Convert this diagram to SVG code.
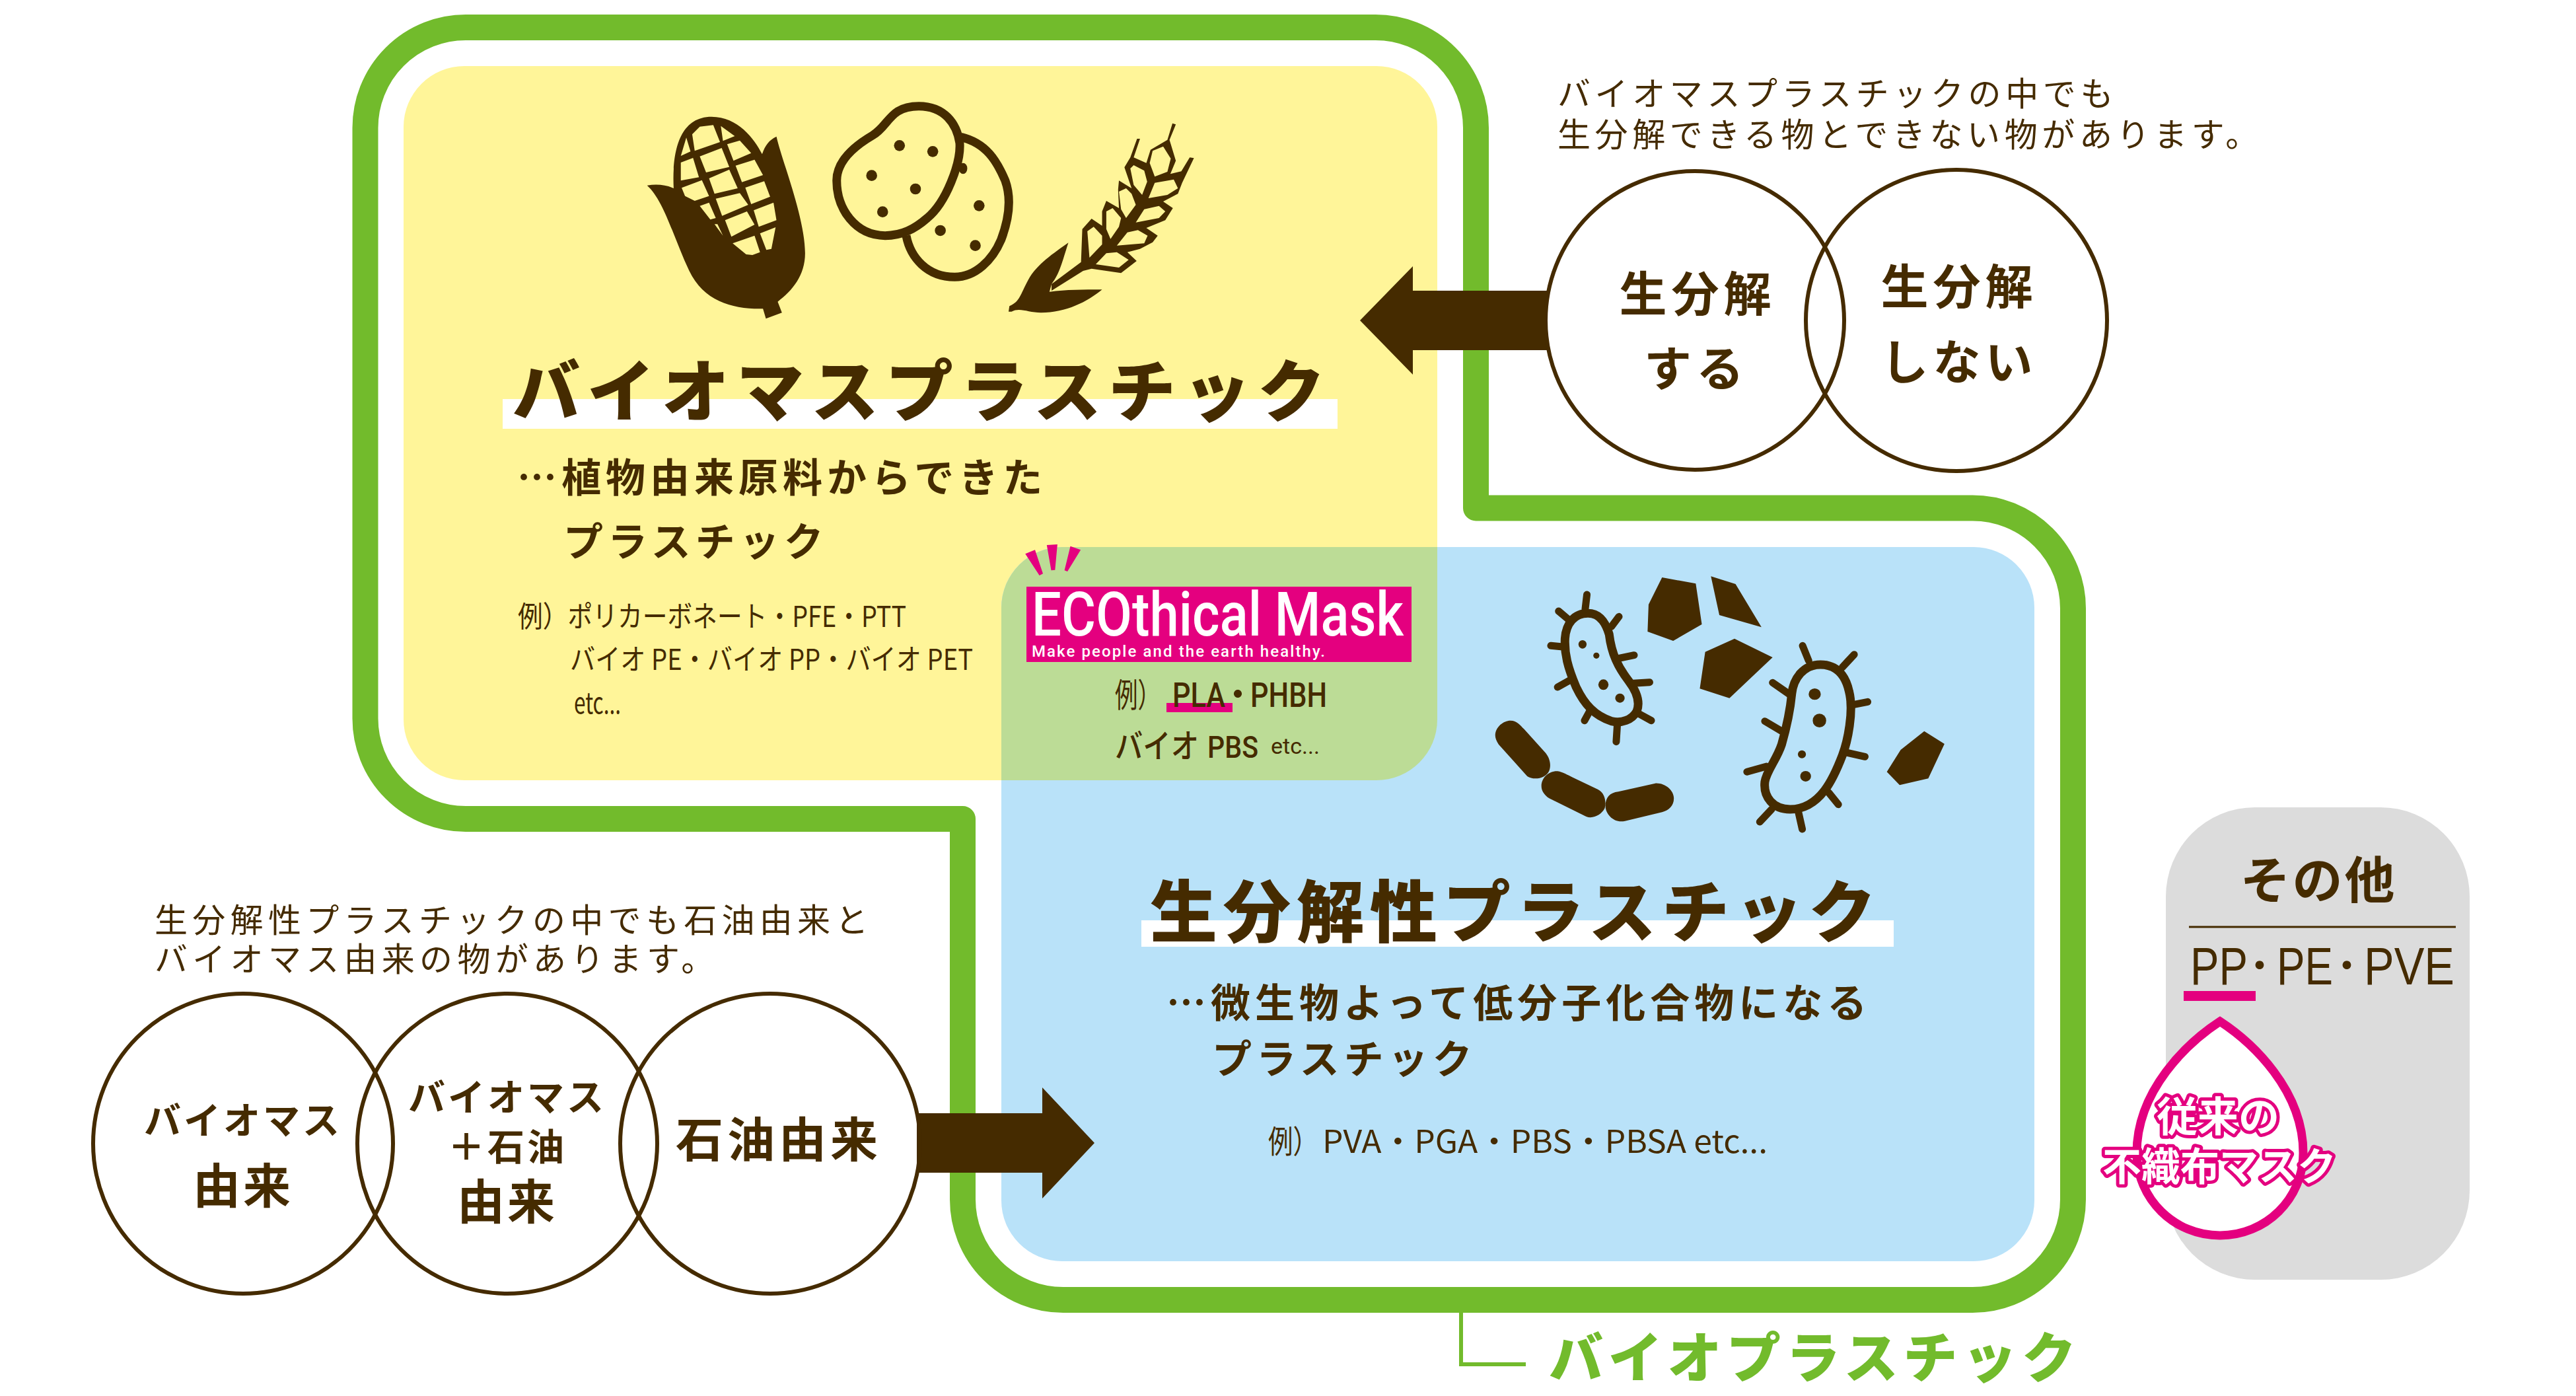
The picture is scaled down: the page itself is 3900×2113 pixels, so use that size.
<svg xmlns="http://www.w3.org/2000/svg" width="3900" height="2113" viewBox="0 0 3900 2113">
<style>
text{font-family:"Noto Sans CJK JP","Noto Sans",sans-serif;fill:#452b00}
.b{font-weight:700}
.m{text-anchor:middle}
.d{fill:#452b00}
.y{fill:#fff599}
.s{fill:none;stroke:#452b00;stroke-width:13;vector-effect:non-scaling-stroke}
.sp{fill:none;stroke:#452b00;stroke-width:11;stroke-linecap:round;vector-effect:non-scaling-stroke}
.c{fill:none;stroke:#452b00;stroke-width:6}
.h{font-weight:900;font-size:102px;letter-spacing:11px}
.t{font-weight:700;font-size:60px;letter-spacing:7px}
.n{font-size:50px;letter-spacing:6.6px}
.e{font-size:44px}
.r{font-family:Roboto,sans-serif;font-weight:500}
.w{fill:#fff;stroke:#e4007f;stroke-width:10;paint-order:stroke;font-weight:700;stroke-linejoin:round}
</style>
<rect width="3900" height="2113" fill="#fff"/>
<g id="bioplastic-frame">
<path d="M705,41.500H2082.500A152,152 0 0 1 2234.500,193.500V769H2986.500A152,152 0 0 1 3138.500,921V1815.500A152,152 0 0 1 2986.500,1967.500H1609.500A152,152 0 0 1 1457.500,1815.500V1239.500H705A152,152 0 0 1 553,1087.500V193.500A152,152 0 0 1 705,41.500Z" fill="#fff" stroke="#72bb2c" stroke-width="39" stroke-linejoin="round"/>
</g>
<g id="biomass-panel">
<rect x="611" y="100" width="1565" height="1081" rx="92" fill="#fff599"/>
<rect x="761" y="604" width="1264" height="45" fill="#fff"/>
</g>
<g id="biodegradable-panel">
<rect x="1516" y="828" width="1564" height="1081" rx="92" fill="#b9e2f9"/>
<rect x="1728" y="1393" width="1139" height="40" fill="#fff"/>
</g>
<path id="overlap" d="M1608,828H2176V1089A92,92 0 0 1 2084,1181H1516V920A92,92 0 0 1 1608,828Z" fill="#bcdc96"/>
<g id="crops" transform="translate(900,130) scale(0.6378,0.3333)">
<path class="d" d="M125,452C150,445 170,450 188,465C185,350 190,140 278,140C340,140 380,240 398,310C405,270 415,245 432,230C445,340 500,600 500,760C500,860 470,930 435,980L445,1030L407,1057L400,1012C330,1015 260,980 225,840C190,700 165,520 125,452Z"/>
<path class="y" d="M232,220L250,185L282,178L298,255L238,295ZM300,182L333,228L305,250ZM218,235L228,298L205,318ZM205,348L234,327L248,415L205,430ZM250,320L302,282L320,368L265,393ZM315,265L345,248L372,305L330,340ZM272,420L320,380L340,465L285,490ZM335,362L380,335L400,405L350,437ZM207,463L255,428L272,500L238,522L215,500ZM288,512L345,487L365,540L303,590ZM358,462L403,433L417,503L372,537ZM250,545L272,530L288,600L275,607ZM310,610L362,570L380,630L325,685ZM378,565L425,530L432,610L390,640ZM285,628L292,628L305,680ZM328,715L380,680L393,755L375,768L360,765ZM393,670L430,642L420,740L408,745Z"/>
<path class="s" d="M870,232C930,260 955,340 975,430C990,510 985,600 965,700C945,790 905,868 855,868C790,868 750,780 740,680"/>
<path class="s" d="M770,92C830,92 860,170 867,260C870,350 835,530 790,600C760,650 730,680 690,680C620,680 575,560 575,430C575,340 620,270 660,225C700,180 700,92 770,92Z"/>
<g class="d"><ellipse cx="724" cy="271" rx="13" ry="25"/><ellipse cx="803" cy="298" rx="13" ry="25"/><ellipse cx="658" cy="407" rx="13" ry="25"/><ellipse cx="762" cy="468" rx="13" ry="25"/><ellipse cx="684" cy="572" rx="13" ry="25"/><ellipse cx="913" cy="544" rx="13" ry="25"/><ellipse cx="821" cy="657" rx="13" ry="25"/><ellipse cx="904" cy="725" rx="13" ry="25"/><ellipse cx="875" cy="375" rx="10" ry="25"/></g>
<path class="d" d="M1085,900L1155,800L1158,650L1180,603L1205,635L1205,570L1215,522L1245,555L1243,470L1245,430L1275,465L1258,370L1272,325L1288,240L1295,240L1280,325L1310,350L1320,290L1360,245L1372,170L1380,175L1365,245L1380,340L1367,400L1393,388L1413,325L1423,328L1395,440L1385,490L1350,525L1373,555L1355,610L1310,645L1337,680L1325,710L1295,740L1265,755L1287,795L1250,850L1180,830L1160,840L1085,930ZM983,1025L985,1000C1010,980 1010,950 1030,880C1050,810 1090,760 1125,712C1110,800 1105,850 1085,900L1080,935C1120,925 1160,925 1205,925C1170,980 1120,1030 1060,1030C1030,1030 1010,1005 990,1025Z"/>
<path class="y" d="M1318,350L1325,295L1350,275L1368,330L1360,390L1330,412ZM1272,375L1280,360L1305,385L1312,435L1300,495L1280,450ZM1315,510L1330,440L1375,425L1385,465L1360,495ZM1245,480L1262,465L1275,490L1285,540L1262,600L1250,560ZM1285,620L1305,560L1340,545L1355,570L1340,600ZM1215,570L1230,555L1250,600L1245,640L1225,695L1215,650ZM1240,725L1265,665L1290,655L1313,680L1305,715ZM1170,660L1185,640L1205,680L1205,720L1175,780ZM1190,810L1215,760L1240,755L1268,790L1245,825Z"/>
</g>
<g id="microbes" transform="translate(2200,850) scale(0.5102,0.3333)">
<path class="d" d="M620,72L720,100L738,285L653,360L577,318L580,195ZM765,67L838,102L915,298L790,243ZM835,350L948,435L820,620L732,577L748,410ZM1398,770L1458,828L1410,985L1325,1015L1287,955L1328,855Z"/>
<path class="d" d="M125,790C125,750 150,722 170,722C190,722 200,745 210,760L275,870C290,900 290,930 285,950C275,985 240,995 220,975L135,830C128,815 125,800 125,790ZM262,1020C262,980 285,950 310,952C325,955 340,970 355,980L430,1035C450,1050 455,1090 450,1120C440,1150 415,1170 395,1158L285,1075C270,1060 262,1040 262,1020ZM452,1110C452,1070 465,1050 490,1045L600,1007C630,1005 655,1040 655,1075C655,1110 640,1130 620,1138L510,1178C480,1190 452,1150 452,1110Z"/>
<path class="s" d="M400,235C440,235 455,290 463,330C470,420 490,480 520,540C545,590 555,640 545,680C530,720 500,735 470,725C420,700 390,650 365,570C340,480 330,420 332,350C335,280 360,235 400,235Z"/>
<path class="sp" d="M397,150L392,215M313,225L340,260M492,250L470,295M290,382L330,388M537,425L490,440M310,570L345,540M583,548L535,553M588,722L550,690M390,722L405,680M484,818L487,745"/>
<path class="s" d="M1090,468C1140,468 1165,520 1175,590C1190,680 1170,820 1155,880C1130,980 1090,1125 1000,1125C950,1125 920,1070 925,1000C930,950 960,900 975,830C990,750 1000,680 1005,600C1010,530 1040,468 1090,468Z"/>
<path class="sp" d="M1037,382L1055,450M1190,422L1155,480M948,550L1000,605M1230,637L1180,652M925,725L980,775M1222,886L1170,868M872,955L930,930M1143,1103L1115,1050M910,1182L945,1125M1036,1215L1025,1140"/>
<g class="d"><ellipse cx="384" cy="376" rx="12" ry="19"/><ellipse cx="425" cy="427" rx="9" ry="14"/><ellipse cx="446" cy="559" rx="15" ry="24"/><ellipse cx="495" cy="620" rx="14" ry="21"/><ellipse cx="1073" cy="602" rx="18" ry="26"/><ellipse cx="1087" cy="722" rx="20" ry="31"/><ellipse cx="1035" cy="875" rx="12" ry="18"/><ellipse cx="1046" cy="975" rx="16" ry="24"/></g>
</g>
<g id="connectors">
<path id="arrow-left" class="d" d="M2343,440H2139V403L2059,485L2139,567V530H2343Z"/>
<path id="arrow-right" class="d" d="M1388,1685H1578V1646L1657,1730L1578,1814V1775H1388Z"/>
<path id="bioplastic-leader" d="M2212,1987V2065H2310" fill="none" stroke="#72bb2c" stroke-width="6"/>
</g>
<g id="biomass-text">
<text class="h" x="776" y="630">バイオマスプラスチック</text>
<text class="t" x="783" y="745">…植物由来原料からできた</text>
<text class="t" x="853" y="842">プラスチック</text>
<text class="e" x="784" y="949" textLength="588" lengthAdjust="spacingAndGlyphs">例）ポリカーボネート・PFE・PTT</text>
<text class="e" x="863" y="1014" textLength="610" lengthAdjust="spacingAndGlyphs">バイオ PE・バイオ PP・バイオ PET</text>
<text class="e" x="869" y="1080" textLength="71" lengthAdjust="spacingAndGlyphs">etc...</text>
</g>
<g id="ecothical">
<rect x="1554" y="888" width="583" height="114" fill="#e4007f"/>
<path fill="#e4007f" transform="translate(1500,800) scale(0.4464,0.3333)" d="M117,115L150,97L177,205L165,213ZM190,75L226,72L218,188L205,190ZM270,80L305,97L260,195L250,190Z"/>
<text x="1562" y="962" class="r" style="fill:#fff;font-size:93px" textLength="563" lengthAdjust="spacingAndGlyphs">ECOthical Mask</text>
<text x="1562" y="994" class="r" style="fill:#fff;font-size:24px" textLength="444" lengthAdjust="spacing">Make people and the earth healthy.</text>
<rect x="1766" y="1064" width="100" height="14" fill="#e4007f"/>
<text x="1688" y="1070" style="font-size:50px" textLength="69" lengthAdjust="spacingAndGlyphs">例）</text>
<text x="1775" y="1070" class="r" style="font-size:52px" textLength="80" lengthAdjust="spacingAndGlyphs">PLA</text>
<text x="1874" y="1070" class="m" style="font-size:52px;font-weight:500">・</text>
<text x="1893" y="1070" class="r" style="font-size:52px" textLength="116" lengthAdjust="spacingAndGlyphs">PHBH</text>
<text x="1688" y="1147" style="font-size:50px;font-weight:500" textLength="127" lengthAdjust="spacingAndGlyphs">バイオ</text>
<text x="1828" y="1147" class="r" style="font-size:46px" textLength="77" lengthAdjust="spacingAndGlyphs">PBS</text>
<text x="1924" y="1141" style="font-family:Roboto,sans-serif;font-size:34px" textLength="74">etc...</text>
</g>
<g id="bio-text">
<text class="h" x="1741" y="1418" style="letter-spacing:9px">生分解性プラスチック</text>
<text class="t" x="1766" y="1540">…微生物よって低分子化合物になる</text>
<text class="t" x="1835" y="1625">プラスチック</text>
<text x="1920" y="1745" style="font-size:48px" textLength="75" lengthAdjust="spacingAndGlyphs">例）</text>
<text x="2002" y="1745" style="font-size:48px" textLength="674" lengthAdjust="spacingAndGlyphs">PVA・PGA・PBS・PBSA etc...</text>
</g>
<g id="note-top">
<text class="n" x="2358" y="160">バイオマスプラスチックの中でも</text>
<text class="n" x="2358" y="222">生分解できる物とできない物があります。</text>
</g>
<g id="venn-top">
<circle class="c" cx="2566" cy="485" r="226"/>
<circle class="c" cx="2962" cy="485" r="228"/>
<g class="b m" style="font-size:72px;letter-spacing:7px">
<text x="2570" y="471">生分解</text><text x="2568" y="584">する</text>
<text x="2966" y="460">生分解</text><text x="2966" y="574">しない</text>
</g>
</g>
<g id="note-left">
<text class="n" x="234" y="1411" style="letter-spacing:7.300px">生分解性プラスチックの中でも石油由来と</text>
<text class="n" x="234" y="1470" style="letter-spacing:7.300px">バイオマス由来の物があります。</text>
</g>
<g id="venn-left">
<circle class="c" cx="368" cy="1731" r="227"/>
<circle class="c" cx="768" cy="1731" r="227"/>
<circle class="c" cx="1166" cy="1731" r="227"/>
<g class="b m">
<text x="368" y="1716" style="font-size:56px;letter-spacing:4px">バイオマス</text>
<text x="368" y="1821" style="font-size:72px;letter-spacing:4px">由来</text>
<text x="768" y="1681" style="font-size:56px;letter-spacing:4px">バイオマス</text>
<text x="768" y="1756" style="font-size:56px;letter-spacing:4px">＋石油</text>
<text x="768" y="1845" style="font-size:72px;letter-spacing:4px">由来</text>
<text x="1179" y="1751" style="font-size:72px;letter-spacing:6px">石油由来</text>
</g>
</g>
<g id="other">
<rect x="3279" y="1222" width="460" height="715" rx="135" fill="#dcdcdc"/>
<text class="b m" x="3510" y="1360" style="font-size:76px;letter-spacing:3px">その他</text>
<path d="M3314,1403H3718" stroke="#452b00" stroke-width="3"/>
<g style="font-size:80px">
<text x="3316" y="1490" style="font-family:'Liberation Sans',sans-serif" textLength="87" lengthAdjust="spacingAndGlyphs">PP</text>
<text x="3421" y="1492" class="m" style="font-size:60px" dy="-8">・</text>
<text x="3447" y="1490" style="font-family:'Liberation Sans',sans-serif" textLength="85" lengthAdjust="spacingAndGlyphs">PE</text>
<text x="3553" y="1492" class="m" style="font-size:60px" dy="-8">・</text>
<text x="3579" y="1490" style="font-family:'Liberation Sans',sans-serif" textLength="137" lengthAdjust="spacingAndGlyphs">PVE</text>
</g>
<rect x="3306" y="1500" width="109" height="15" fill="#e4007f"/>
<path d="M3361,1546C3410,1578 3487,1650 3487,1745C3487,1815 3430,1870 3361,1870C3292,1870 3235,1815 3235,1745C3235,1650 3312,1578 3361,1546Z" fill="#fff" stroke="#e4007f" stroke-width="13"/>
<text class="w m" x="3358" y="1713" style="font-size:62px">従来の</text>
<text class="w m" x="3360" y="1787" style="font-size:59px">不織布マスク</text>
</g>
<text id="bioplastic-label" x="2345" y="2085" style="font-weight:900;font-size:82px;letter-spacing:7.700px;fill:#72bb2c">バイオプラスチック</text>
</svg>
